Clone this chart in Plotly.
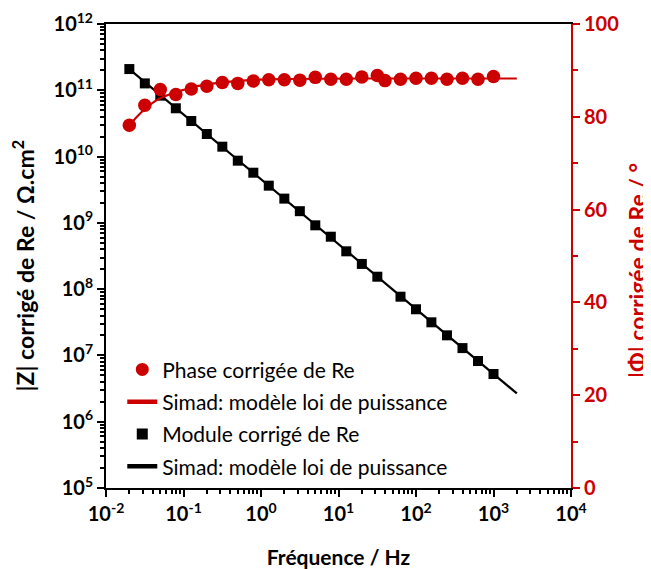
import plotly.graph_objects as go

# ---- data ----
freq_phase = [0.02, 0.0317, 0.0502, 0.0796, 0.126, 0.2, 0.317, 0.502, 0.796, 1.26, 2.0,
              3.17, 5.02, 7.96, 12.6, 20.0, 31.7, 39.8, 63.1, 100, 158, 251, 398, 631, 1000]
phase = [78.2, 82.5, 85.9, 84.8, 86.0, 86.6, 87.4, 87.2, 87.7, 88.0, 88.0,
         87.9, 88.5, 88.1, 88.1, 88.6, 88.9, 87.8, 88.1, 88.3, 88.3, 88.1, 88.3, 88.1, 88.7]

freq_mod = [0.02, 0.0317, 0.0502, 0.0796, 0.126, 0.2, 0.317, 0.502, 0.796, 1.26, 2.0,
            3.17, 5.02, 7.96, 12.6, 20.0, 31.7, 63.1, 100, 158, 251, 398, 631, 1000]
modulus = [2.09e11, 1.27e11, 8.3e10, 5.35e10, 3.44e10, 2.19e10, 1.41e10, 8.67e9, 5.71e9,
           3.64e9, 2.32e9, 1.50e9, 9.18e8, 6.18e8, 3.72e8, 2.40e8, 1.54e8, 7.69e7, 4.97e7,
           3.16e7, 2.01e7, 1.29e7, 8.24e6, 5.25e6]

fit_freq_mod = [0.02, 2000]
fit_mod = [2.09e11, 2.67e6]

fit_freq_phase = [0.02, 0.03, 0.045, 0.07, 0.1, 0.15, 0.25, 0.4, 0.7, 1.2, 2.5, 6, 20, 100, 2000]
fit_phase = [78.2, 81.3, 83.6, 85.0, 85.8, 86.6, 87.2, 87.6, 87.9, 88.05, 88.15, 88.2, 88.25, 88.25, 88.25]

x_exponents = [-2, -1, 0, 1, 2, 3, 4]
y_exponents = [5, 6, 7, 8, 9, 10, 11, 12]
phase_ticks = [0, 20, 40, 60, 80, 100]
phase_minor = [10, 30, 50, 70, 90]

RED = "#CC0000"
FONT = "Lato"

x_tickvals = [10.0 ** e for e in x_exponents]
x_ticktext = ["10<sup>%d</sup>" % e for e in x_exponents]
y_tickvals = [10.0 ** e for e in y_exponents]
y_ticktext = ["10<sup>%d</sup>" % e for e in y_exponents]
x_minor = [m * 10.0 ** e for e in x_exponents[:-1] for m in range(2, 10)]
y_minor = [m * 10.0 ** e for e in y_exponents[:-1] for m in range(2, 10)]

fig = go.Figure()

# data / fit traces (legend handled by legend-only traces below)
fig.add_trace(go.Scatter(x=fit_freq_phase, y=fit_phase, yaxis="y2", mode="lines",
                         line=dict(color=RED, width=2.2, shape="spline"), showlegend=False))
fig.add_trace(go.Scatter(x=freq_phase, y=phase, yaxis="y2", mode="markers",
                         marker=dict(color=RED, size=13.5, symbol="circle"), showlegend=False))
fig.add_trace(go.Scatter(x=fit_freq_mod, y=fit_mod, mode="lines",
                         line=dict(color="black", width=2.2), showlegend=False))
fig.add_trace(go.Scatter(x=freq_mod, y=modulus, mode="markers",
                         marker=dict(color="black", size=10, symbol="square"), showlegend=False))

# legend entries
fig.add_trace(go.Scatter(x=[None], y=[None], mode="markers",
                         marker=dict(color=RED, size=13, symbol="circle"),
                         name="Phase corrigée de Re", legendgroup="a"))
fig.add_trace(go.Scatter(x=[None], y=[None], mode="lines",
                         line=dict(color=RED, width=4.5),
                         name="Simad: modèle loi de puissance", legendgroup="b"))
fig.add_trace(go.Scatter(x=[None], y=[None], mode="markers",
                         marker=dict(color="black", size=11, symbol="square"),
                         name="Module corrigé de Re", legendgroup="c"))
fig.add_trace(go.Scatter(x=[None], y=[None], mode="lines",
                         line=dict(color="black", width=4.5),
                         name="Simad: modèle loi de puissance", legendgroup="d"))

fig.update_layout(
    width=651, height=569,
    margin=dict(l=98, r=88, t=16, b=89),
    plot_bgcolor="white", paper_bgcolor="white",
    font=dict(family=FONT, color="black"),
    showlegend=True,
    legend=dict(x=0.035, y=0.299, xanchor="left", yanchor="top",
                bgcolor="rgba(0,0,0,0)", font=dict(size=21, color="black", family=FONT),
                tracegroupgap=2, itemwidth=30),
    xaxis=dict(type="log", range=[-2, 4], tickmode="array", tickvals=x_tickvals, ticktext=x_ticktext,
               showgrid=False, zeroline=False, automargin=False,
               showline=True, linecolor="black", linewidth=2, mirror=True,
               ticks="outside", ticklen=7, tickwidth=2, tickcolor="black",
               tickfont=dict(size=20, family=FONT, weight="bold"),
               minor=dict(tickmode="array", tickvals=x_minor, ticks="outside", ticklen=4,
                          tickwidth=1.5, tickcolor="black", showgrid=False),
               title=dict(text="Fréquence / Hz", font=dict(size=21, family=FONT, weight="bold"),
                          standoff=26)),
    yaxis=dict(type="log", range=[5, 12], tickmode="array", tickvals=y_tickvals, ticktext=y_ticktext,
               showgrid=False, zeroline=False, automargin=False,
               showline=True, linecolor="black", linewidth=2,
               ticks="outside", ticklen=7, tickwidth=2, tickcolor="black",
               tickfont=dict(size=20, family=FONT, weight="bold"),
               minor=dict(tickmode="array", tickvals=y_minor, ticks="outside", ticklen=4,
                          tickwidth=1.5, tickcolor="black", showgrid=False)),
    yaxis2=dict(overlaying="y", side="right", range=[0, 100], tickmode="array", tickvals=phase_ticks,
                showgrid=False, zeroline=False, automargin=False,
                showline=True, linecolor=RED, linewidth=2,
                ticks="outside", ticklen=7, tickwidth=2, tickcolor=RED,
                tickfont=dict(size=20, family=FONT, weight="bold", color=RED),
                minor=dict(tickmode="array", tickvals=phase_minor, ticks="outside", ticklen=5,
                           tickwidth=2, tickcolor=RED, showgrid=False)),
    annotations=[
        dict(text="|Z| corrigé de Re / Ω.cm<sup>2</sup>", textangle=-90,
             xref="paper", yref="paper", x=-0.178, y=0.478, xanchor="center", yanchor="middle",
             showarrow=False, font=dict(size=23, family=FONT, weight="bold", color="black")),
        dict(text="|Φ| corrigée de Re / °", textangle=-90,
             xref="paper", yref="paper", x=1.142, y=0.468, xanchor="center", yanchor="middle",
             showarrow=False, font=dict(size=23, family=FONT, weight="bold", color=RED)),
    ],
)

fig.write_html("out.html")
